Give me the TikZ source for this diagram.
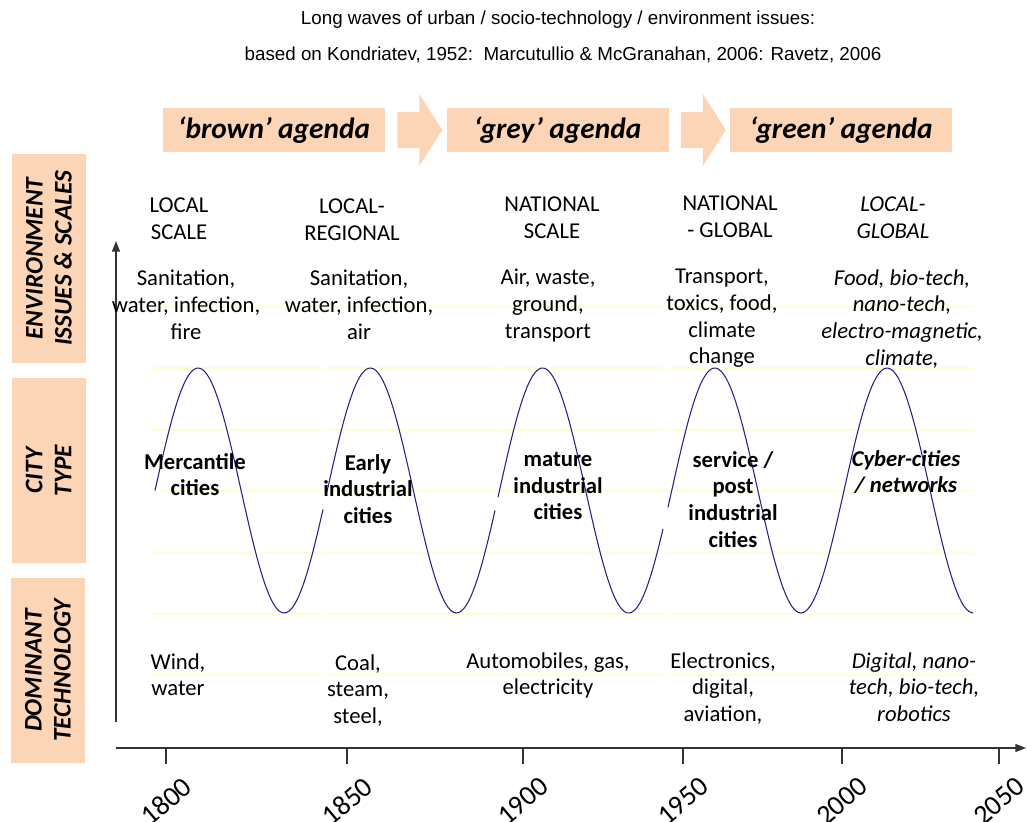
\documentclass[tikz,border=0pt]{standalone}
\usepackage{fontspec}
\setmainfont{Carlito}
\newfontfamily\headfont{Liberation Sans}
\usetikzlibrary{arrows.meta,calc,positioning}
\definecolor{peach}{RGB}{251,213,181}
\definecolor{waveblue}{RGB}{35,35,140}
\definecolor{paleyellow}{RGB}{255,255,210}
\newcommand{\wavey}[1]{490.5-122.5*sin((#1-155)*2.09)}

\begin{document}
\begin{tikzpicture}[x=0.75pt,y=-0.75pt,>={Triangle[length=8pt,width=6pt]},node distance=45.75pt,
  every node/.style={inner sep=0pt},
  agenda/.style={fill=peach,minimum width=166.5pt,minimum height=33pt,font=\fontsize{22}{24}\selectfont\bfseries\itshape},
  side/.style={fill=peach,rotate=90,align=center,minimum height=55.5pt,font=\fontsize{19}{21.75}\selectfont\bfseries\itshape},
  lbl/.style={anchor=north,align=center,font=\fontsize{17}{20}\selectfont},
  lbli/.style={lbl,font=\fontsize{17}{20}\selectfont\itshape},
  citylbl/.style={lbl,font=\fontsize{17}{20}\selectfont\bfseries},
  year/.style={rotate=40,font=\fontsize{21}{22}\selectfont},
  wave/.style={waveblue,line width=0.8pt},
  gridline/.style={paleyellow,line width=1pt},
  axis/.style={black!80,line width=0.9pt}]
  \useasboundingbox (0,0) rectangle (1027,821);

  \node[font=\headfont\fontsize{14.1}{16}\selectfont] (title1) at (558,20) {Long waves of urban / socio-technology / environment issues:};
  \node[font=\headfont\fontsize{14.1}{16}\selectfont] (title2) at (563,55) {based on Kondriatev, 1952:\ \ Marcutullio \& McGranahan, 2006: Ravetz, 2006};

  \node[agenda] (brown) at (274,130) {‘brown’ agenda};
  \node[agenda,right=of brown] (grey) {‘grey’ agenda};
  \node[agenda,right=of grey] (green) {‘green’ agenda};
  \foreach \a in {brown,grey}
    \fill[peach] ($(\a.east)+(12,-18)$) -- ++(22,0) -- ++(0,-18) -- ++(23,36) -- ++(-23,36) -- ++(0,-18) -- ++(-22,0) -- cycle;

  \node[side,minimum width=156.75pt] (env) at (49,258.5) {ENVIRONMENT\\ISSUES \& SCALES};
  \node[side,minimum width=138.75pt] (ctype) at (48.5,470.5) {CITY\\TYPE};
  \node[side,minimum width=138.75pt] (dtech) at (48,670.5) {DOMINANT\\TECHNOLOGY};

  \foreach \a/\b in {153/323,327/495,498/663,668/973}
    \foreach \y in {307,368,430,491,553,614,675}
      \draw[gridline] (\a,\y) -- (\b,\y);
  \foreach \a/\b in {155/323,327/495,498/663,668/973}
    \draw[wave] plot[domain=\a:\b,samples=70,smooth] (\x,{\wavey{\x}});

  \coordinate (vbot) at (116,722);
  \coordinate (vtop) at (116,241);
  \coordinate (hleft) at (116,748);
  \coordinate (hright) at (1026,748);
  \draw[axis,->] (vbot) -- (vtop);
  \draw[axis,->] (hleft) -- (hright);
  \foreach \x/\yr in {166/1800,347/1850,523/1900,683/1950,842/2000,999/2050}{
    \draw[axis] (\x,748) -- (\x,764);
    \node[year] (y\yr) at (\x,801) {\yr};
  }

  \node[lbl] (sc1) at (179,198) {LOCAL\\SCALE};
  \node[lbl] (sc2) at (352,199) {LOCAL-\\REGIONAL};
  \node[lbl] (sc3) at (552,197) {NATIONAL\\SCALE};
  \node[lbl] (sc4) at (730,196) {NATIONAL\\- GLOBAL};
  \node[lbli] (sc5) at (893,197) {LOCAL-\\GLOBAL};

  \node[lbl] (is1) at (186,270) {Sanitation,\\water, infection,\\fire};
  \node[lbl] (is2) at (359,270) {Sanitation,\\water, infection,\\air};
  \node[lbl] (is3) at (548,269) {Air, waste,\\ground,\\transport};
  \node[lbl] (is4) at (722,269) {Transport,\\toxics, food,\\climate\\change};
  \node[lbli] (is5) at (902,269) {Food, bio-tech,\\nano-tech,\\electro-magnetic,\\climate,};

  \node[citylbl] (ct1) at (195,453) {Mercantile\\cities};
  \node[citylbl] (ct2) at (368,454) {Early\\industrial\\cities};
  \node[citylbl] (ct3) at (558,452) {mature\\industrial\\cities};
  \node[citylbl] (ct4) at (733,451) {service /\\post\\industrial\\cities};
  \node[citylbl,font=\fontsize{17}{20}\selectfont\bfseries\itshape] (ct5) at (906,450) {Cyber-cities\\/ networks};

  \node[lbl] (tc1) at (178,653) {Wind,\\water};
  \node[lbl] (tc2) at (358,654) {Coal,\\steam,\\steel,};
  \node[lbl] (tc3) at (548,652) {Automobiles, gas,\\electricity};
  \node[lbl] (tc4) at (723,652) {Electronics,\\digital,\\aviation,};
  \node[lbli] (tc5) at (914,652) {Digital, nano-\\tech, bio-tech,\\robotics};
\end{tikzpicture}
\end{document}
